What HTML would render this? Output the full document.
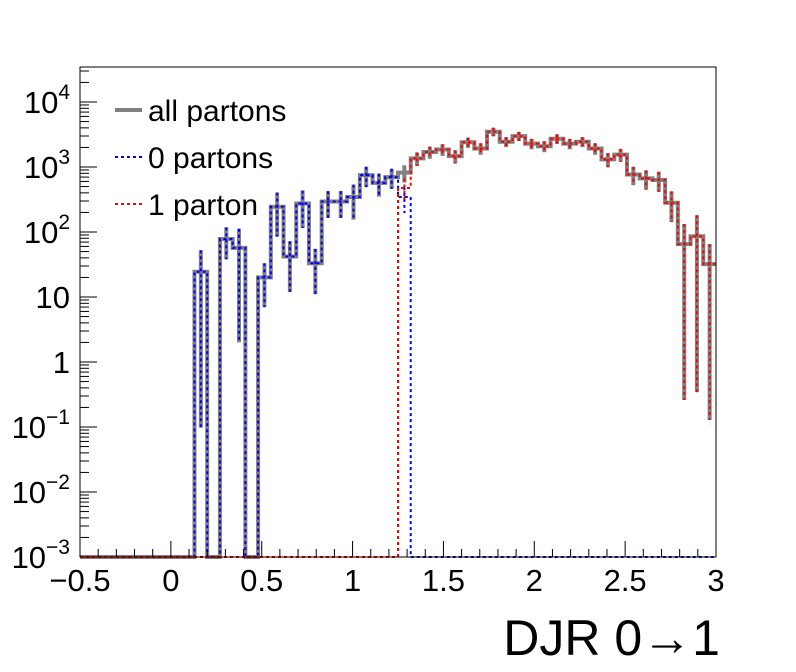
<!DOCTYPE html>
<html><head><meta charset="utf-8"><style>
body{margin:0;background:#fff;}
svg{display:block;font-family:"Liberation Sans",sans-serif;}
</style></head><body>
<svg id="chart" width="796" height="672" viewBox="0 0 796 672" xmlns="http://www.w3.org/2000/svg">
<rect x="0" y="0" width="796" height="672" fill="#fff"/>
<g id="marks"></g>
<g id="axes"></g>
<g id="legend">
  <line x1="115" y1="110" x2="142" y2="110" stroke="#808080" stroke-width="4"/>
  <text x="148" y="121" font-size="30">all partons</text>
  <line x1="115" y1="157" x2="142" y2="157" stroke="#0000ff" stroke-width="2" stroke-dasharray="3,3"/>
  <text x="148" y="168" font-size="30">0 partons</text>
  <line x1="115" y1="204" x2="142" y2="204" stroke="#ff0000" stroke-width="2" stroke-dasharray="3,3"/>
  <text x="148" y="215" font-size="30">1 parton</text>
</g>
<text x="720" y="655" font-size="50" text-anchor="end">DJR 0→1</text>
</svg>
<script>
// data: 50 bins from -0.5 to 3.0
const xMin = -0.5, xMax = 3.0, nBins = 50;
const zeroParton = [0,0,0,0,0,0,0,0,0,24.5,0,78,57,0,20,245,42,275,33,295,295,345,750,570,700,345,0,0,0,0,0,0,0,0,0,0,0,0,0,0,0,0,0,0,0,0,0,0,0,0];
const oneParton = [0,0,0,0,0,0,0,0,0,0,0,0,0,0,0,0,0,0,0,0,0,0,0,0,0,475,1355,1700,1860,1470,2400,1930,3490,2450,2990,2290,2090,2720,2290,2450,1930,1310,1550,767,668,630,282,65,86,32];
const zeroErr = [0,0,0,0,0,0,0,0,0,28,0,40,55,0,13,160,30,160,22,130,130,190,260,220,240,150,0,0,0,0,0,0,0,0,0,0,0,0,0,0,0,0,0,0,0,0,0,0,0,0];
const oneErr = [0,0,0,0,0,0,0,0,0,0,0,0,0,0,0,0,0,0,0,0,0,0,0,0,0,190,320,360,380,340,430,390,520,430,480,420,400,460,420,430,390,320,350,240,220,215,140,68,95,33];
const xTicks = [-0.5,0,0.5,1,1.5,2,2.5,3];
const xTickLabels = ["\u22120.5","0","0.5","1","1.5","2","2.5","3"];
const yTickExps = [-3,-2,-1,0,1,2,3,4];
const allPartons = zeroParton.map((v,i)=>v+oneParton[i]);
const allErr = zeroErr.map((e,i)=>Math.sqrt(e*e+oneErr[i]*oneErr[i]));

const L=80,R=716,T=67,B=557;
const yLogMin=-3, pxPerDec=65;
const xs = x => L + (x-xMin)/(xMax-xMin)*(R-L);
const ys = v => v<=0 ? B : Math.max(T, Math.min(B, B - (Math.log10(v)-yLogMin)*pxPerDec));
const NS="http://www.w3.org/2000/svg";
const marks=document.getElementById('marks'), axes=document.getElementById('axes');
function mk(tag,attrs,parent){const e=document.createElementNS(NS,tag);for(const k in attrs)e.setAttribute(k,attrs[k]);parent.appendChild(e);return e;}
const bw=(xMax-xMin)/nBins;

function drawHist(vals,errs,color,width,dash,name){
  const g=mk('g',{},marks);
  
  
  let d='';
  for(let i=0;i<nBins;i++){
    const x0=xs(xMin+i*bw), x1=xs(xMin+(i+1)*bw), y=ys(vals[i]);
    d += (i===0?'M':'L')+x0+','+y+' L'+x1+','+y+' ';
  }
  const p=mk('path',{d:d,fill:'none',stroke:color,'stroke-width':width},g);
  if(dash)p.setAttribute('stroke-dasharray',dash);
  
  
  for(let i=0;i<nBins;i++){
    if(vals[i]<=0)continue;
    const xc=xs(xMin+(i+0.5)*bw);
    const lo=vals[i]-errs[i]>0?vals[i]-errs[i]:vals[i]*0.004;
    const ln=mk('line',{x1:xc,x2:xc,y1:ys(vals[i]+errs[i]),y2:ys(lo),stroke:color,'stroke-width':width},g);
    if(dash)ln.setAttribute('stroke-dasharray',dash);
    
    
  }
}
drawHist(allPartons,allErr,'#808080',4,null,'all-partons-hist');
drawHist(zeroParton,zeroErr,'#0000ff',2,'3,3','zero-partons-hist');
drawHist(oneParton,oneErr,'#ff0000',2,'3,3','one-parton-hist');

// frame
const fr=mk('rect',{x:L,y:T,width:R-L,height:B-T,fill:'none',stroke:'#000','stroke-width':1},axes);


// x ticks
for(let k=0;k<=35;k++){
  const x=xs(xMin+k*0.1);
  const major=(k%5===0);
  const t=mk('line',{x1:x,x2:x,y1:B,y2:B-(major?16:8),stroke:'#000','stroke-width':1},axes);
  
  
}
xTicks.forEach((v,i)=>{
  const t=mk('text',{x:xs(v),y:591,'font-size':31,'text-anchor':'middle'},axes);
  t.textContent=xTickLabels[i];
  
  
});
// y ticks
for(let e=-3;e<=4;e++){
  for(let m=1;m<=9;m++){
    const v=m*Math.pow(10,e);
    const y=ys(v);
    if(y<T||y>B)continue;
    const t=mk('line',{x1:L,x2:L+(m===1?17:9),y1:y,y2:y,stroke:'#000','stroke-width':1},axes);
    
    
  }
}
yTickExps.forEach(e=>{
  const y=ys(Math.pow(10,e));
  const t=mk('text',{x:70,y:y+11,'font-size':31,'text-anchor':'end'},axes);
  
  
  if(e===0){t.textContent='1';}
  else if(e===1){t.textContent='10';}
  else{
    const base=document.createElementNS(NS,'tspan');base.textContent='10';t.appendChild(base);
    const sup=document.createElementNS(NS,'tspan');sup.setAttribute('dy','-14');sup.setAttribute('font-size','21');
    sup.textContent=e<0?'\u2212'+(-e):String(e);t.appendChild(sup);
  }
});
</script>
</body></html>
